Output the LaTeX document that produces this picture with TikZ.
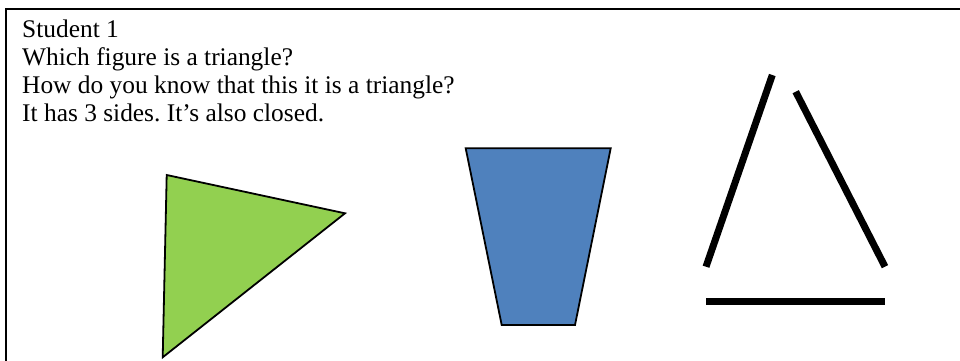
\documentclass[tikz,border=0pt]{standalone}
\usepackage{fontspec}
\setmainfont{Liberation Serif}
\definecolor{trigreen}{HTML}{92D050}
\definecolor{trapblue}{HTML}{4F81BD}
\tikzset{
  txt/.style={anchor=base west, inner sep=0pt, font=\fontsize{25.4}{28}\selectfont},
  shapeout/.style={draw=black, line width=1.8pt, line join=miter},
  stick/.style={draw=black, line width=7pt, line cap=butt}
}
\frenchspacing
\begin{document}
\begin{tikzpicture}[x=1pt,y=-1pt]
\useasboundingbox (0,0) rectangle (960,360);
% frame (open on the right and bottom)
\draw[line width=2pt] (5.5,400) -- (5.5,9) -- (1000,9);
% text
\node[txt] (t1) at (22,37) {Student 1};
\node[txt] (t2) at (22,65) {Which figure is a triangle?};
\node[txt] (t3) at (22,93) {How do you know that this it is a triangle?};
\node[txt] (t4) at (22,121) {It has 3 sides. It’s also closed.};
% green triangle
\coordinate (g1) at (166.7,175);
\coordinate (g2) at (345,213.3);
\coordinate (g3) at (162.7,357.3);
\filldraw[shapeout, fill=trigreen] (g1) -- (g2) -- (g3) -- cycle;
% blue trapezoid
\coordinate (b1) at (465.7,148.3);
\coordinate (b2) at (610.7,148.3);
\coordinate (b3) at (575,325);
\coordinate (b4) at (501.7,325);
\filldraw[shapeout, fill=trapblue] (b1) -- (b2) -- (b3) -- (b4) -- cycle;
% open triangle of sticks
\coordinate (s1a) at (772.3,75);
\coordinate (s1b) at (706,266.7);
\coordinate (s2a) at (795.7,91.7);
\coordinate (s2b) at (885,266.7);
\coordinate (s3a) at (706,301);
\coordinate (s3b) at (885,301);
\draw[stick] (s1a) -- (s1b);
\draw[stick] (s2a) -- (s2b);
\draw[stick] (s3a) -- (s3b);
\end{tikzpicture}
\end{document}
